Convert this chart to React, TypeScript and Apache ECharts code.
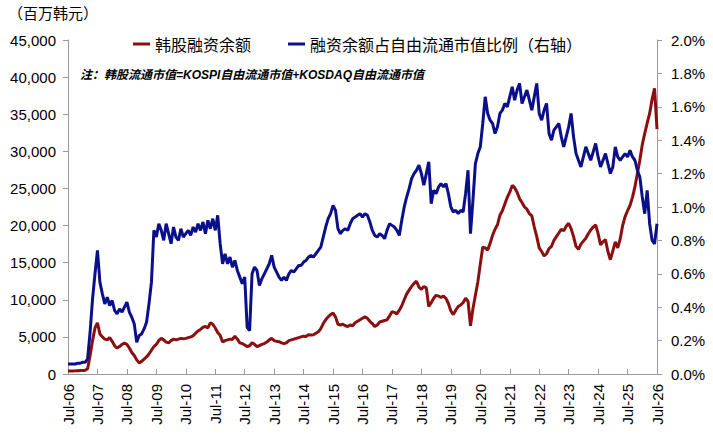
import { useEffect, useRef } from "react";
import * as echarts from "echarts";

// 月度数据：2006年7月起
const MONTHS = ["Jan", "Feb", "Mar", "Apr", "May", "Jun", "Jul", "Aug", "Sep", "Oct", "Nov", "Dec"];
const START_YEAR = 2006;
const START_MONTH = 6; // Jul

// 韩股融资余额（百万韩元）
const marginBalance = [
  400, 400, 420, 430, 450, 470, 480, 500, 700, 2500, 4500, 6200,
  6900, 5400, 5000, 4700, 4600, 4900, 4400, 3800, 3500, 3700, 4000, 4150,
  4000, 3500, 2900, 2500, 1900, 1500, 1700, 2000, 2300, 2700, 3200, 3700,
  4000, 4500, 4800, 4600, 4300, 4200, 4500, 4700, 4600, 4700, 4800, 4750,
  4800, 4900, 5000, 5150, 5500, 5800, 6000, 6300, 6400, 6200, 6900, 6700,
  6200, 5600, 5200, 4300, 4500, 4600, 4700, 4650, 5100, 4700, 4200, 4100,
  3900, 3700, 3800, 4200, 4000, 3700, 3800, 4000, 4100, 4300, 4600, 4800,
  4500, 4400, 4350, 4200, 4100, 4200, 4500, 4600, 4700, 4800, 4900, 5000,
  5100, 5050, 5300, 5250, 5300, 5500, 5700, 6100, 6800, 7300, 7700, 8000,
  8200, 7700, 6700, 6600, 6700, 6500, 6400, 6600, 6500, 6900, 7100, 7300,
  7500, 7700, 7500, 7100, 6800, 6400, 6600, 7000, 7100, 7200, 7300, 7800,
  8400, 8300, 8100, 8600, 9200, 10000, 10800, 11300, 11800, 12200, 12500, 11700,
  11400, 11800, 11600, 9100, 9600, 10200, 10600, 10500, 10300, 10500, 10200, 9500,
  8500, 8000, 8600, 9100, 9300, 9600, 10200, 9800, 6500, 8800, 10600, 12400,
  14800, 17100, 17000, 16700, 17600, 18700, 19500, 20100, 21400, 22000, 22900, 23800,
  24500, 25400, 25100, 24500, 23600, 23100, 22500, 22200, 21600, 21300, 19800, 18500,
  17000, 16500, 15900, 16200, 16900, 17200, 18000, 18500, 19000, 19500, 19300, 19900,
  20300, 19600, 18500, 17200, 16800, 17500, 17900, 18300, 18900, 19400, 19800, 20100,
  18900, 17400, 17800, 18100, 16500, 15400, 16600, 17800, 17000, 18200, 20000, 21200,
  22000, 22700, 23800, 25200, 27000, 28800, 30900, 32400, 33800, 35100, 37000, 38500,
  33000,
];

// 融资余额占自由流通市值比例（%）
const marginRatio = [
  0.06, 0.06, 0.06, 0.06, 0.065, 0.065, 0.07, 0.07, 0.09, 0.25, 0.45, 0.6,
  0.74, 0.55, 0.48, 0.42, 0.46, 0.41, 0.44, 0.38, 0.36, 0.39, 0.37, 0.4,
  0.43, 0.37, 0.34, 0.3, 0.19, 0.23, 0.24, 0.27, 0.31, 0.42, 0.55, 0.86,
  0.82, 0.9, 0.86, 0.8, 0.9, 0.84, 0.78, 0.88, 0.82, 0.8, 0.87, 0.82,
  0.84, 0.86, 0.83, 0.88, 0.85, 0.9, 0.86, 0.91, 0.84, 0.92, 0.87, 0.93,
  0.86, 0.95, 0.78, 0.66, 0.72, 0.66, 0.7, 0.64, 0.68, 0.62, 0.58, 0.54,
  0.58, 0.28, 0.26, 0.6, 0.64, 0.62, 0.53, 0.57, 0.6, 0.63, 0.66, 0.71,
  0.64, 0.61, 0.58, 0.56, 0.58, 0.56, 0.6, 0.62, 0.61, 0.63, 0.65, 0.65,
  0.67, 0.68, 0.7, 0.71, 0.7, 0.72, 0.74, 0.76, 0.82, 0.88, 0.93, 0.96,
  1.01, 0.98, 0.87, 0.84, 0.86, 0.87, 0.86, 0.9, 0.93, 0.94, 0.95, 0.96,
  0.94, 0.96, 0.95, 0.91, 0.86, 0.83, 0.82, 0.84, 0.83, 0.81, 0.86, 0.9,
  0.89, 0.88, 0.86, 0.83, 0.92, 1.0, 1.06, 1.11, 1.17, 1.2, 1.22, 1.25,
  1.2, 1.13, 1.2, 1.27, 1.02, 1.1, 1.08, 1.12, 1.14, 1.12, 1.14, 1.08,
  1.0, 0.97, 0.98, 0.96, 0.98, 0.97, 1.08, 1.22, 0.84, 1.04, 1.26, 1.32,
  1.36, 1.5, 1.66, 1.56, 1.52, 1.5, 1.44, 1.48, 1.56, 1.58, 1.62, 1.6,
  1.66, 1.72, 1.64, 1.7, 1.74, 1.62, 1.66, 1.7, 1.64, 1.58, 1.66, 1.74,
  1.56, 1.52, 1.58, 1.62, 1.44, 1.4, 1.46, 1.48, 1.5, 1.42, 1.36, 1.42,
  1.48, 1.56, 1.42, 1.32, 1.28, 1.24, 1.3, 1.36, 1.32, 1.28, 1.33, 1.38,
  1.3, 1.24, 1.28, 1.32, 1.26, 1.2, 1.24, 1.36, 1.3, 1.28, 1.3, 1.32,
  1.3, 1.34, 1.3, 1.28, 1.22, 1.18, 1.06, 0.96, 1.1, 0.9, 0.8, 0.78,
  0.9,
];

const categories = marginBalance.map((_, i) => {
  const m = START_MONTH + i;
  const yy = String((START_YEAR + Math.floor(m / 12)) % 100).padStart(2, "0");
  return `${MONTHS[m % 12]}-${yy}`;
});

const FONT = '"Liberation Sans", Arial, "Noto Sans CJK SC", sans-serif';
const CJK = '"Noto Sans CJK SC", sans-serif';
const AXIS_GRAY = "#9a9a9a";

const App: React.FC = () => {
  const chartRef = useRef<HTMLDivElement>(null);

  useEffect(() => {
    document.body.style.margin = "0";
    const myChart = echarts.init(chartRef.current!, undefined, { renderer: "svg" });

    const option: echarts.EChartsOption = {
      animation: false,
      backgroundColor: "#fff",
      textStyle: { fontFamily: FONT, color: "#000" },
      grid: { left: 68, right: 56, top: 40, bottom: 60, outerBoundsMode: "none" } as any,
      legend: {
        left: 128,
        top: 31,
        icon: "rect",
        itemWidth: 17,
        itemHeight: 3,
        itemGap: 37,
        textStyle: { fontFamily: CJK, fontSize: 16, color: "#000" },
        data: ["韩股融资余额", "融资余额占自由流通市值比例（右轴）"],
      },
      graphic: [
        {
          type: "text",
          left: 8,
          top: 5,
          style: { text: "（百万韩元）", font: `15px ${CJK}`, fill: "#000" },
        },
        {
          type: "text",
          left: 80,
          top: 69,
          style: {
            text: "注：韩股流通市值=KOSPI自由流通市值+KOSDAQ自由流通市值",
            font: `italic bold 12px ${FONT}`,
            fill: "#000",
          },
        },
      ],
      xAxis: {
        type: "category",
        data: categories,
        boundaryGap: false,
        axisLine: { lineStyle: { color: AXIS_GRAY, width: 1 } },
        axisTick: { interval: 11, inside: true, length: 5, lineStyle: { color: AXIS_GRAY } },
        axisLabel: { interval: 11, rotate: 90, fontSize: 15, color: "#000", margin: 10 },
        splitLine: { show: false },
      },
      yAxis: [
        {
          type: "value",
          min: 0,
          max: 45000,
          interval: 5000,
          axisLine: { show: true, lineStyle: { color: AXIS_GRAY } },
          axisTick: { show: true, length: 5, lineStyle: { color: AXIS_GRAY } },
          axisLabel: {
            fontSize: 15,
            color: "#000",
            margin: 12,
            formatter: (v: number) => v.toLocaleString("en-US"),
          },
          splitLine: { show: false },
        },
        {
          type: "value",
          min: 0,
          max: 2,
          interval: 0.2,
          axisLine: { show: true, lineStyle: { color: AXIS_GRAY } },
          axisTick: { show: true, length: 5, lineStyle: { color: AXIS_GRAY } },
          axisLabel: {
            fontSize: 15,
            color: "#000",
            margin: 14,
            formatter: (v: number) => `${v.toFixed(1)}%`,
          },
          splitLine: { show: false },
        },
      ],
      series: [
        {
          name: "韩股融资余额",
          type: "line",
          data: marginBalance,
          yAxisIndex: 0,
          showSymbol: false,
          color: "#8c0f0f",
          lineStyle: { width: 3, color: "#8c0f0f" },
        },
        {
          name: "融资余额占自由流通市值比例（右轴）",
          type: "line",
          data: marginRatio,
          yAxisIndex: 1,
          showSymbol: false,
          color: "#0b0f8a",
          lineStyle: { width: 3, color: "#0b0f8a" },
        },
      ],
    };
    myChart.setOption(option);

    const handleResize = () => myChart.resize();
    window.addEventListener("resize", handleResize);

    return () => {
      window.removeEventListener("resize", handleResize);
      myChart.dispose();
    };
  }, []);

  return <div ref={chartRef} style={{ width: "713px", height: "434px" }} />;
};

export default App;
